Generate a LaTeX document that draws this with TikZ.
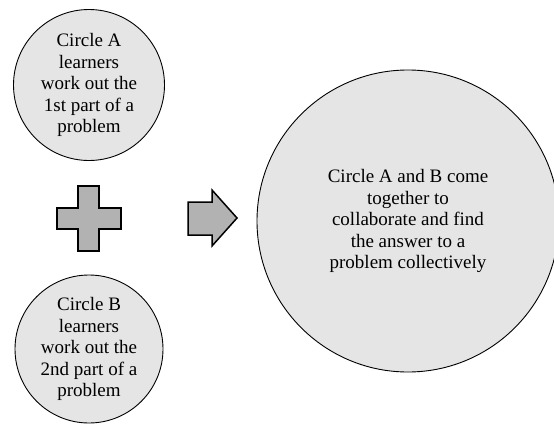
\documentclass[tikz,border=0pt]{standalone}
\usepackage{fontspec}
\setmainfont{Liberation Serif}
\usepackage{tikz}

\begin{document}
\begin{tikzpicture}[x=1pt,y=-1pt,
  blob/.style={circle, draw=black, line width=0.9pt, fill=gray!20, inner sep=0pt, align=center, font=\fontsize{19}{21.5}\selectfont},
  block/.style={draw=black, line width=1.5pt, fill=gray!60, line join=miter}]
\useasboundingbox (0,0) rectangle (554,423);
\clip (0,0) rectangle (554,423);
\node [blob, minimum size=151pt] (circA) at (89,85) {Circle A\\learners\\work out the\\1st part of a\\problem};
\node [blob, minimum size=148pt, below of=circA, node distance=264pt] (circB) {Circle B\\learners\\work out the\\2nd part of a\\problem};
\node [blob, minimum size=302pt] (circAB) at (408,221) {Circle A and B come\\together to\\collaborate and find\\the answer to a\\problem collectively};
% plus sign
\draw [block] (78,186) -- (99,186) -- (99,208) -- (121,208) -- (121,229) -- (99,229) -- (99,251) -- (78,251) -- (78,229) -- (57,229) -- (57,208) -- (78,208) -- cycle;
% arrow
\draw [block] (188,202) -- (212,202) -- (212,190) -- (237,218) -- (212,246) -- (212,235) -- (188,235) -- cycle;
\end{tikzpicture}
\end{document}
